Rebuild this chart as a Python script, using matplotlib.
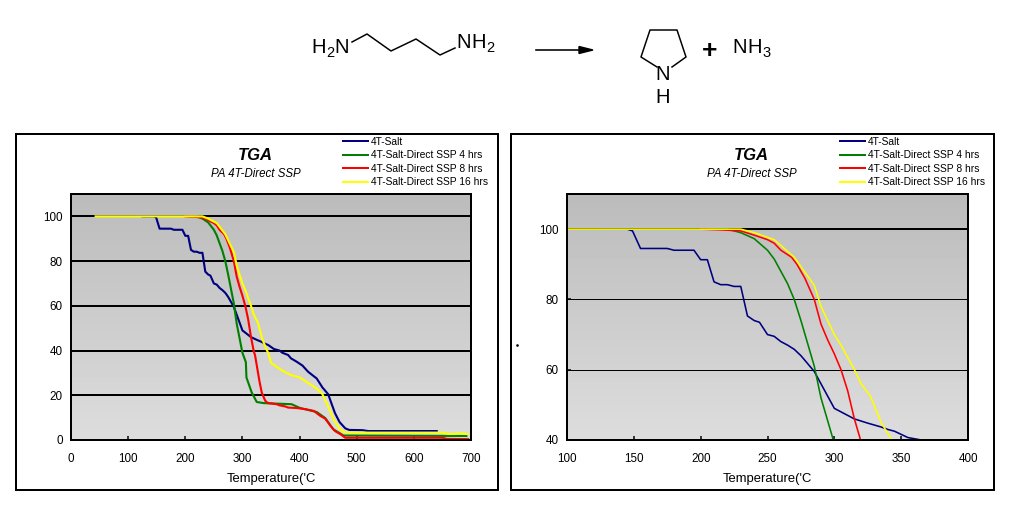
import numpy as np
import matplotlib
matplotlib.use('Agg')
import matplotlib.pyplot as plt
from matplotlib.patches import Rectangle, Polygon

plt.rcParams['font.family'] = ['Liberation Sans', 'DejaVu Sans']

W, H = 1010, 514
PX = 0.72  # one pixel in points at dpi 100

salt_t = [125, 145, 149, 155, 175, 180, 195, 200, 205, 210, 215, 220, 225, 230, 235, 240, 244, 250, 255, 260, 265, 270, 275, 285, 290, 295, 300, 305, 315, 325, 335, 340, 345, 355, 365, 370, 380, 385, 395, 405, 415, 430, 440, 450, 457, 462, 470, 480, 487, 510, 520, 640]
salt_w = [100, 100, 99.5, 94.5, 94.5, 94, 94, 91.3, 91.3, 85, 84.2, 84.2, 83.7, 83.7, 75.3, 74, 73.5, 70, 69.5, 68, 67, 65.8, 64, 59.5, 56, 52.5, 49, 48, 46, 44.8, 43.7, 43, 42.5, 40.7, 40, 39, 38, 36.5, 35, 33.3, 30.5, 27.5, 23.5, 20.5, 15.5, 12, 8, 5.2, 4.5, 4.4, 4, 4]

ssp4_t = [205, 220, 230, 240, 250, 255, 265, 270, 275, 280, 285, 290, 295, 300, 306, 307, 316, 325, 337, 386, 401, 430, 445, 459, 477, 692]
ssp4_w = [100, 100, 99, 97.3, 94, 91.5, 84.5, 80, 74, 67.5, 61, 52, 45.5, 39, 34.8, 28, 21.4, 17, 16.5, 16, 14.3, 12.5, 9.8, 4.8, 2, 1.8]

ssp8_t = [200, 215, 230, 240, 250, 255, 260, 268, 272, 278, 285, 290, 295, 300, 305, 310, 315, 320, 322, 326, 330, 334, 340, 345, 360, 365, 375, 380, 395, 410, 425, 435, 445, 455, 462, 472, 480, 650, 658, 695]
ssp8_w = [100, 99.8, 99.5, 98.3, 97, 96, 94, 92, 90, 86, 80, 73, 68.5, 64.5, 60, 54, 46, 39.5, 38, 32, 26, 21, 17.5, 16.5, 16, 15.5, 15, 14.5, 14.3, 13.8, 13, 11, 9.5, 6, 4, 2.5, 1, 1, 0.5, 0.4]

ssp16_t = [43, 230, 240, 255, 270, 285, 290, 300, 305, 315, 320, 327, 335, 343, 345, 350, 358, 370, 385, 400, 415, 430, 440, 450, 460, 470, 478, 490, 650, 660, 670, 678, 695]
ssp16_w = [100, 100, 99, 97, 92, 84, 78, 70, 67, 60, 56, 52.5, 45, 40, 39, 34.5, 33, 31, 29, 28, 25.5, 23, 20.5, 15, 9, 5, 3.5, 3.3, 3.3, 2.7, 2.7, 3, 2.6]

series_labels = ['4T-Salt', '4T-Salt-Direct SSP 4 hrs', '4T-Salt-Direct SSP 8 hrs', '4T-Salt-Direct SSP 16 hrs']
series_colors = ['#000080', '#008000', '#ff0000', '#ffff00']
series = [(salt_t, salt_w), (ssp4_t, ssp4_w), (ssp8_t, ssp8_w), (ssp16_t, ssp16_w)]

left_xticks = [0, 100, 200, 300, 400, 500, 600, 700]
left_yticks = [0, 20, 40, 60, 80, 100]
right_xticks = [100, 150, 200, 250, 300, 350, 400]
right_yticks = [40, 60, 80, 100]


def make_axes(x0, x1, y0, y1):
    # pixel box, y measured from the top of the picture
    return fig.add_axes([x0 / W, 1 - y1 / H, (x1 - x0) / W, (y1 - y0) / H])


def draw_panel(ax, xlim, ylim, xticks, yticks, grid_widths, line_px, legend_x, title_x):
    grad = np.linspace(0.735, 0.865, 64).reshape(-1, 1)
    ax.imshow(grad, extent=(0, 1, 0, 1), transform=ax.transAxes, aspect='auto',
              cmap='gray', vmin=0, vmax=1, zorder=0)

    for tick, lw in zip(yticks, grid_widths):
        ax.axhline(tick, color='black', lw=lw * PX, zorder=1)

    for (t, w), label, color in zip(series, series_labels, series_colors):
        ax.plot(t, w, color=color, lw=line_px * PX, label=label, zorder=2)

    ax.set_xlim(xlim)
    ax.set_ylim(ylim)
    ax.set_xticks(xticks)
    ax.set_yticks(yticks)
    ax.tick_params(axis='x', direction='in', length=3, width=1.5 * PX, labelsize=8.4, pad=9)
    ax.tick_params(axis='y', direction='in', length=3, width=1.5 * PX, labelsize=8.4, pad=6)
    for spine in ax.spines.values():
        spine.set_linewidth(2 * PX)
    ax.set_xlabel("Temperature('C", fontsize=9.4, labelpad=6)

    leg = ax.legend(loc='upper left', bbox_to_anchor=(legend_x / W, 1 - 137 / H),
                    bbox_transform=fig.transFigure, frameon=False, fontsize=7.4,
                    handlelength=2.4, handletextpad=0.3, labelspacing=0.33,
                    borderpad=0, borderaxespad=0)
    for handle in leg.get_lines():
        handle.set_linewidth(2 * PX)

    over.text(title_x, 156, 'TGA', fontsize=12, fontweight='bold', style='italic',
              ha='center', va='center')
    over.text(title_x + 1, 174, 'PA 4T-Direct SSP', fontsize=8.3, style='italic',
              ha='center', va='center')


def chem_label(x, y, parts):
    # parts are (text, is_subscript, width in pixels), laid out from x on a baseline y
    for s, sub, width in parts:
        if sub:
            over.text(x, y + 4, s, fontsize=10.5, ha='left', va='baseline')
        else:
            over.text(x, y, s, fontsize=14.5, ha='left', va='baseline')
        x += width


fig = plt.figure(figsize=(W / 100, H / 100), dpi=100)

# overlay in picture pixels for the reaction scheme and the chart frames
over = fig.add_axes([0, 0, 1, 1], zorder=-1)
over.set_xlim(0, W)
over.set_ylim(H, 0)
over.axis('off')

for x0, x1 in [(16, 498), (511, 994)]:
    over.add_patch(Rectangle((x0, 134), x1 - x0, 356, fill=False, edgecolor='black', lw=2 * PX))

over.plot([516.5], [345], marker='s', ms=0.8, color='black')

# reaction scheme
chain_x = [352, 367, 391, 416, 440, 455]
chain_y = [42, 34, 51, 39, 55, 48]
over.plot(chain_x, chain_y, color='black', lw=1.5 * PX)
ring_x = [657, 641, 650, 677, 686, 672]
ring_y = [67, 57, 30, 30, 57, 67]
over.plot(ring_x, ring_y, color='black', lw=1.5 * PX)
over.plot([536, 585], [50, 50], color='black', lw=1.6 * PX)
over.add_patch(Polygon([[579, 46.5], [593, 50], [579, 53.5]], color='black'))

chem_label(311, 53, [('H', False, 15), ('2', True, 8), ('N', False, 15)])
chem_label(456, 48, [('N', False, 15), ('H', False, 15), ('2', True, 8)])
chem_label(732, 53, [('N', False, 15), ('H', False, 15), ('3', True, 8)])
over.text(710, 51, '+', fontsize=19, fontweight='bold', ha='center', va='center')
over.text(663, 74, 'N', fontsize=14.5, ha='center', va='center')
over.text(663, 97.5, 'H', fontsize=14.5, ha='center', va='center')

ax1 = make_axes(71, 471, 194, 440)
draw_panel(ax1, (0, 700), (0, 110), left_xticks, left_yticks, [2, 2, 2, 2, 2, 2], 2.1, 343, 255)

ax2 = make_axes(567, 968, 194, 440)
draw_panel(ax2, (100, 400), (40, 110), right_xticks, right_yticks, [2, 1, 1, 2], 1.6, 840, 751)

fig.savefig('out.png', dpi=100, facecolor='white')
